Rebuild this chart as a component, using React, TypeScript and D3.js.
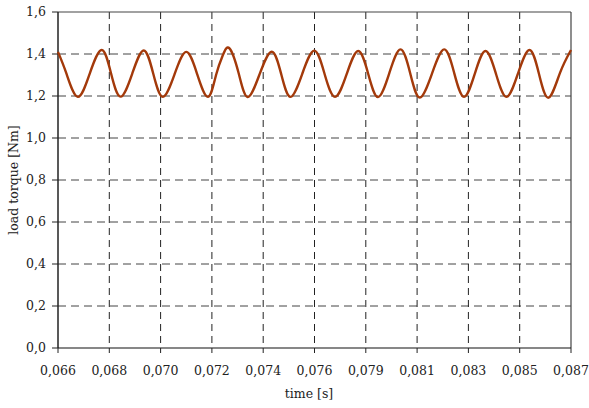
import React from "react";
import * as d3 from "d3";

const timeValues: number[] = [
  0.066, 0.06635, 0.06681, 0.0673, 0.06779, 0.06817, 0.06856, 0.06904, 0.06951, 0.0699,
  0.07029, 0.07077, 0.07125, 0.0717, 0.07214, 0.07247, 0.07275, 0.07302, 0.07339, 0.07376,
  0.07425, 0.07475, 0.07514, 0.07552, 0.076, 0.07649, 0.07691, 0.07734, 0.07782, 0.07829,
  0.0787, 0.0791, 0.07956, 0.08002, 0.08042, 0.08081, 0.08131, 0.08181, 0.08222, 0.08262,
  0.08306, 0.0835, 0.08393, 0.08436, 0.08483, 0.0853, 0.08569, 0.08608, 0.08655, 0.087,
];
const torqueValues: number[] = [
  1.41, 1.305, 1.196, 1.307, 1.419, 1.308, 1.197, 1.307, 1.417, 1.306,
  1.196, 1.303, 1.41, 1.303, 1.196, 1.3, 1.395, 1.427, 1.311, 1.195,
  1.303, 1.411, 1.303, 1.196, 1.306, 1.416, 1.306, 1.196, 1.305, 1.414,
  1.305, 1.195, 1.308, 1.422, 1.307, 1.193, 1.307, 1.422, 1.309, 1.196,
  1.305, 1.414, 1.305, 1.196, 1.307, 1.419, 1.305, 1.192, 1.31, 1.419,
];

const xTickValues: number[] = [0.066, 0.0681, 0.0702, 0.0723, 0.0744, 0.0765, 0.0786, 0.0807, 0.0828, 0.0849, 0.087];
const xTickLabels: string[] = ["0,066", "0,068", "0,070", "0,072", "0,074", "0,076", "0,079", "0,081", "0,083", "0,085", "0,087"];
const yTickValues: number[] = [0, 0.2, 0.4, 0.6, 0.8, 1.0, 1.2, 1.4, 1.6];
const yTickLabels: string[] = ["0,0", "0,2", "0,4", "0,6", "0,8", "1,0", "1,2", "1,4", "1,6"];

const xLabel = "time [s]";
const yLabel = "load torque [Nm]";

export default function App() {
  const W = 589, H = 408;
  const left = 58, right = 571, top = 12, bottom = 348;
  const x = d3.scaleLinear().domain([0.066, 0.087]).range([left, right]);
  const y = d3.scaleLinear().domain([0, 1.6]).range([bottom, top]);
  const data = timeValues.map((t, i) => [t, torqueValues[i]] as [number, number]);
  const line = d3
    .line<[number, number]>()
    .x((d) => x(d[0]))
    .y((d) => y(d[1]))
    .curve(d3.curveNatural);
  const font = "'DejaVu Serif', serif";
  return (
    <svg width={W} height={H} style={{ position: "absolute", left: 0, top: 0, background: "#fff" }}>
      {yTickValues.slice(1, -1).map((v, i) => (
        <line key={"hg" + i} x1={left} x2={right} y1={y(v)} y2={y(v)} stroke="#444" strokeWidth={1} strokeDasharray="8,5" />
      ))}
      {xTickValues.slice(1, -1).map((v, i) => (
        <line key={"vg" + i} x1={x(v)} x2={x(v)} y1={top} y2={bottom} stroke="#222" strokeWidth={1} strokeDasharray="7,5" />
      ))}
      <line x1={left} x2={right} y1={top} y2={top} stroke="#444" strokeWidth={1.2} />
      <line x1={right} x2={right} y1={top} y2={bottom} stroke="#444" strokeWidth={1.2} />
      <line x1={left} x2={left} y1={top} y2={bottom} stroke="#222" strokeWidth={1.5} />
      <line x1={left} x2={right} y1={bottom} y2={bottom} stroke="#111" strokeWidth={1.2} />
      {yTickValues.map((v, i) => (
        <g key={"yt" + i}>
          <line x1={left - 6} x2={left} y1={y(v)} y2={y(v)} stroke="#222" strokeWidth={1} />
          <text x={left - 12} y={y(v)} dy="0.35em" textAnchor="end" fontFamily={font} fontSize={12.5} fill="#222">
            {yTickLabels[i]}
          </text>
        </g>
      ))}
      {xTickValues.map((v, i) => (
        <g key={"xt" + i}>
          <line x1={x(v)} x2={x(v)} y1={bottom} y2={bottom + 5} stroke="#222" strokeWidth={1} />
          <text x={x(v)} y={375} textAnchor="middle" fontFamily={font} fontSize={12.5} fill="#222">
            {xTickLabels[i]}
          </text>
        </g>
      ))}
      <text x={309} y={398} textAnchor="middle" fontFamily={font} fontSize={12.5} fill="#222">
        {xLabel}
      </text>
      <text transform={`translate(18,${(top + bottom) / 2}) rotate(-90)`} textAnchor="middle" fontFamily={font} fontSize={12.5} fill="#222">
        {yLabel}
      </text>
      <path d={line(data) || ""} fill="none" stroke="#a3390a" strokeWidth={2.4} strokeLinejoin="round" />
    </svg>
  );
}
